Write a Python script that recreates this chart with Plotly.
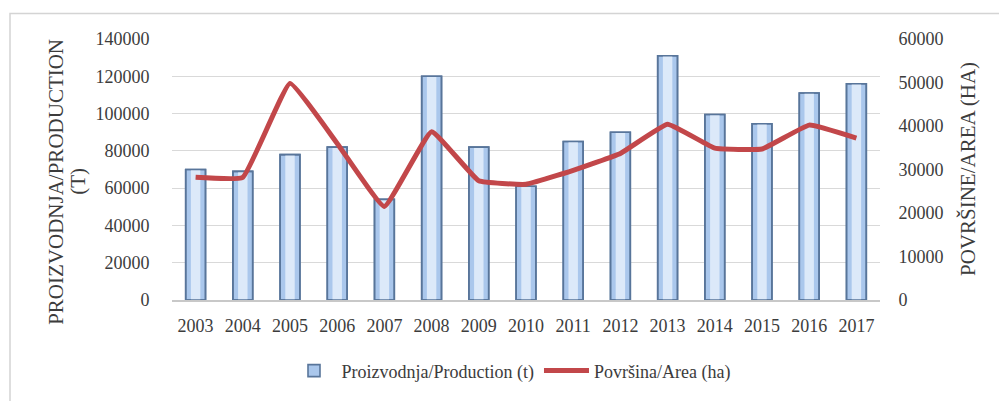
import plotly.graph_objects as go

years = ["2003", "2004", "2005", "2006", "2007", "2008", "2009", "2010",
         "2011", "2012", "2013", "2014", "2015", "2016", "2017"]
production = [70000, 69000, 78000, 82000, 54000, 120000, 82000, 61000,
              85000, 90000, 131000, 99500, 94500, 111000, 116000]
area = [28200, 28200, 49800, 36000, 21500, 38700, 27400, 26600,
        29800, 33700, 40400, 34900, 34700, 40200, 37200]

left_ticks = [0, 20000, 40000, 60000, 80000, 100000, 120000, 140000]
right_ticks = [0, 10000, 20000, 30000, 40000, 50000, 60000]

FONT = "Liberation Serif"
TXT = "#3c3c3c"
BAR_EDGE = "#58759a"

fig = go.Figure()
fig.add_trace(go.Bar(
    x=years, y=production, name="Proizvodnja/Production (t)",
    width=0.42,
    marker=dict(color="#aac7ec", line=dict(color=BAR_EDGE, width=1.6)),
    yaxis="y",
))
fig.add_trace(go.Bar(
    x=years, y=production, name="Proizvodnja/Production (t)",
    width=0.2, showlegend=False, hoverinfo="skip",
    marker=dict(color="#dce9f9", line=dict(width=0)),
    yaxis="y",
))
fig.add_trace(go.Bar(
    x=years, y=production, name="Proizvodnja/Production (t)",
    width=0.42, showlegend=False, hoverinfo="skip",
    marker=dict(color="rgba(0,0,0,0)", line=dict(color=BAR_EDGE, width=1.6)),
    yaxis="y",
))
fig.add_trace(go.Scatter(
    x=years, y=area, name="Površina/Area (ha)", mode="lines",
    line=dict(color="#c2474a", width=5, shape="spline", smoothing=0.3),
    yaxis="y2",
))

L, T, W, H = 172, 39, 708, 265

def px(x):
    return (x - L) / W

def py(y):
    return (T + H - y) / H

fig.update_layout(
    width=999, height=401,
    margin=dict(l=L, r=999 - L - W, t=T, b=401 - T - H, pad=0),
    paper_bgcolor="white", plot_bgcolor="white",
    font=dict(family=FONT, size=18, color=TXT),
    barmode="overlay",
    showlegend=True,
    legend=dict(orientation="h", x=px(511), xanchor="center", y=py(376),
                yanchor="middle", font=dict(size=18, color=TXT),
                itemwidth=45, bgcolor="rgba(0,0,0,0)"),
    xaxis=dict(type="category", range=[-0.5, 14.5], showgrid=False,
               showline=True, linecolor="#c8c8c8", linewidth=1.5,
               ticks="outside", ticklen=9, tickcolor="rgba(0,0,0,0)",
               tickfont=dict(size=18, color=TXT), fixedrange=True),
    yaxis=dict(range=[0, 140000], tickvals=left_ticks,
               ticktext=[str(v) for v in left_ticks],
               showgrid=True, gridcolor="#d9d9d9", gridwidth=1,
               zeroline=False, showline=False,
               ticks="outside", ticklen=18, tickcolor="rgba(0,0,0,0)",
               tickfont=dict(size=18, color=TXT)),
    yaxis2=dict(range=[0, 60000], tickvals=right_ticks,
                ticktext=[str(v) for v in right_ticks],
                overlaying="y", side="right", showgrid=False,
                zeroline=False, showline=False,
                ticks="outside", ticklen=14, tickcolor="rgba(0,0,0,0)",
                tickfont=dict(size=18, color=TXT)),
    shapes=[dict(type="rect", xref="paper", yref="paper",
                 x0=px(10), x1=px(1010), y0=py(420), y1=py(13),
                 line=dict(color="#d4d4d4", width=1.5), layer="below")],
    annotations=[
        dict(text="PROIZVODNJA/PRODUCTION", xref="paper", yref="paper",
             x=px(56), y=py(184), textangle=-90, showarrow=False,
             font=dict(size=21, color=TXT), xanchor="center", yanchor="middle"),
        dict(text="(T)", xref="paper", yref="paper",
             x=px(78), y=py(184), textangle=-90, showarrow=False,
             font=dict(size=21, color=TXT), xanchor="center", yanchor="middle"),
        dict(text="POVRŠINE/AREA (HA)", xref="paper", yref="paper",
             x=px(968), y=py(171), textangle=-90, showarrow=False,
             font=dict(size=21, color=TXT), xanchor="center", yanchor="middle"),
    ],
)

fig.write_html("out.html")
